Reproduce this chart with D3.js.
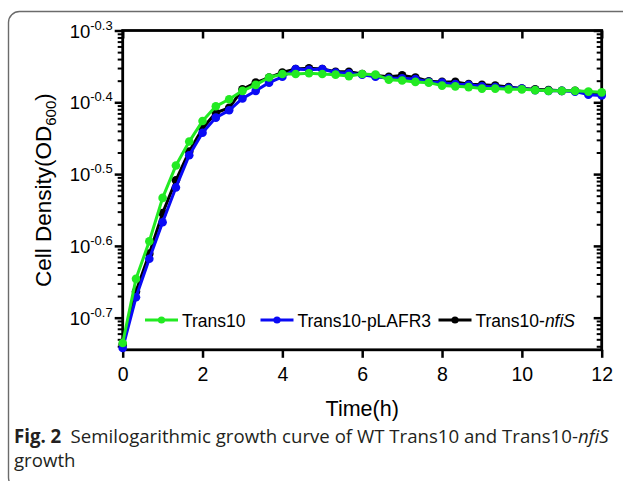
<!DOCTYPE html>
<html>
<head>
<meta charset="utf-8">
<script src="https://cdn.jsdelivr.net/npm/d3@7"></script>
<style>
body { margin: 0; background: #fff; }
svg { display: block; }
</style>
</head>
<body>
<script>
// time points (h), sampled every 20 min
var hours = [0, 0.333, 0.667, 1, 1.333, 1.667, 2, 2.333, 2.667, 3, 3.333, 3.667, 4, 4.333, 4.667, 5, 5.333, 5.667,
	6, 6.333, 6.667, 7, 7.333, 7.667, 8, 8.333, 8.667, 9, 9.333, 9.667, 10, 10.333, 10.667, 11, 11.333, 11.667, 12];

// OD600 readings
var trans10 = [0.184, 0.226, 0.255, 0.293, 0.325, 0.351, 0.375, 0.393, 0.402, 0.413, 0.421, 0.431, 0.436, 0.436, 0.437, 0.436, 0.435, 0.433,
	0.436, 0.435, 0.428, 0.427, 0.425, 0.424, 0.420, 0.419, 0.418, 0.416, 0.416, 0.415, 0.415, 0.414, 0.413, 0.413, 0.413, 0.412, 0.411];
var pLAFR3 = [0.181, 0.213, 0.241, 0.271, 0.303, 0.336, 0.361, 0.379, 0.388, 0.403, 0.413, 0.424, 0.432, 0.443, 0.442, 0.443, 0.438, 0.437,
	0.435, 0.432, 0.430, 0.430, 0.429, 0.425, 0.424, 0.422, 0.421, 0.419, 0.418, 0.417, 0.416, 0.414, 0.413, 0.413, 0.412, 0.408, 0.407];
var nfiS = [0.183, 0.217, 0.245, 0.279, 0.310, 0.340, 0.366, 0.385, 0.391, 0.415, 0.424, 0.431, 0.438, 0.443, 0.444, 0.443, 0.439, 0.439,
	0.436, 0.434, 0.432, 0.434, 0.431, 0.426, 0.425, 0.425, 0.422, 0.421, 0.420, 0.418, 0.416, 0.415, 0.414, 0.413, 0.413, 0.411, 0.410];

var xTicks = [0, 2, 4, 6, 8, 10, 12];
var yExponents = [-0.7, -0.6, -0.5, -0.4, -0.3];

var series = [
	{ name: "Trans10-nfiS", values: nfiS, color: "#000000" },
	{ name: "Trans10-pLAFR3", values: pLAFR3, color: "#0a0af5" },
	{ name: "Trans10", values: trans10, color: "#22ea22" }
];

var width = 623, height = 481;
var font = "'Liberation Sans', Arial, sans-serif";

var svg = d3.select("body").append("svg")
	.attr("width", width)
	.attr("height", height);

// figure frame (journal box)
svg.append("rect")
	.attr("x", 8.5).attr("y", 11.5)
	.attr("width", 660).attr("height", 477)
	.attr("rx", 11)
	.attr("fill", "none")
	.attr("stroke", "#6b6b6b")
	.attr("stroke-width", 1.4);

var x = d3.scaleLinear().domain([0, 12]).range([122.7, 601.7]);
var y = d3.scaleLog().domain([0.18, Math.pow(10, -0.3)]).range([349.8, 30.5]);

var majors = yExponents.map(function (e) { return Math.pow(10, e); });
var minors = [];
[-0.8, -0.7, -0.6, -0.5, -0.4].forEach(function (b) {
	for (var k = 2; k <= 9; k++) {
		var v = Math.pow(10, b + 0.1 * Math.log10(k));
		if (v >= y.domain()[0] && v <= y.domain()[1]) minors.push(v);
	}
});

var x0 = x.range()[0], x1 = x.range()[1], y0 = y.range()[0], y1 = y.range()[1];

function styleAxis(g, sw) {
	g.selectAll("line").attr("stroke", "#000").attr("stroke-width", sw);
	g.selectAll(".domain").remove();
}

// left axis
var gl = svg.append("g").attr("transform", "translate(" + x0 + ",0)");
gl.call(d3.axisLeft(y).tickValues(minors).tickSize(5).tickFormat(""));
styleAxis(gl, 2);
var glm = svg.append("g").attr("transform", "translate(" + x0 + ",0)");
glm.call(d3.axisLeft(y).tickValues(majors).tickSize(8).tickFormat(""));
styleAxis(glm, 2.5);

// right axis (ticks inward)
var gr = svg.append("g").attr("transform", "translate(" + x1 + ",0)");
gr.call(d3.axisRight(y).tickValues(minors).tickSize(-5).tickFormat(""));
styleAxis(gr, 2);
var grm = svg.append("g").attr("transform", "translate(" + x1 + ",0)");
grm.call(d3.axisRight(y).tickValues(majors).tickSize(-8).tickFormat(""));
styleAxis(grm, 2.5);

// bottom axis
var gb = svg.append("g").attr("transform", "translate(0," + y0 + ")");
gb.call(d3.axisBottom(x).tickValues(xTicks).tickSize(8).tickFormat(d3.format("d")));
styleAxis(gb, 2.5);
gb.selectAll("text")
	.attr("font-family", font)
	.attr("font-size", 19.5)
	.attr("fill", "#000")
	.attr("dy", "1.05em");

// top axis (ticks inward)
var gt = svg.append("g").attr("transform", "translate(0," + y1 + ")");
gt.call(d3.axisTop(x).tickValues(xTicks).tickSize(-8).tickFormat(""));
styleAxis(gt, 2.5);

// plot frame
svg.append("rect")
	.attr("x", x0).attr("y", y1)
	.attr("width", x1 - x0).attr("height", y0 - y1)
	.attr("fill", "none")
	.attr("stroke", "#000")
	.attr("stroke-width", 2.8);

// y tick labels 10^e
var yl = svg.append("g").selectAll("text")
	.data(yExponents)
	.enter().append("text")
	.attr("x", x0 - 10)
	.attr("y", function (d) { return y(Math.pow(10, d)) + 7; })
	.attr("text-anchor", "end")
	.attr("font-family", font)
	.attr("fill", "#000");
yl.append("tspan").attr("font-size", 18.5).text("10");
yl.append("tspan").attr("font-size", 13).attr("dy", -8).text(function (d) { return d.toFixed(1); });

// axis titles
var yt = svg.append("text")
	.attr("transform", "translate(51," + ((y0 + y1) / 2) + ") rotate(-90)")
	.attr("text-anchor", "middle")
	.attr("font-family", font)
	.attr("font-size", 22.5)
	.attr("fill", "#000");
yt.append("tspan").text("Cell Density(OD");
yt.append("tspan").attr("font-size", 15).attr("dy", 5).text("600");
yt.append("tspan").attr("dy", -5).text(")");

svg.append("text")
	.attr("x", (x0 + x1) / 2)
	.attr("y", 416)
	.attr("text-anchor", "middle")
	.attr("font-family", font)
	.attr("font-size", 21.5)
	.attr("fill", "#000")
	.text("Time(h)");

// series
var line = d3.line()
	.x(function (d, i) { return x(hours[i]); })
	.y(function (d) { return y(d); });

series.forEach(function (s) {
	var g = svg.append("g");
	g.append("path")
		.attr("d", line(s.values))
		.attr("fill", "none")
		.attr("stroke", s.color)
		.attr("stroke-width", 3)
		.attr("stroke-linejoin", "round");
	g.selectAll("circle")
		.data(s.values)
		.enter().append("circle")
		.attr("cx", function (d, i) { return x(hours[i]); })
		.attr("cy", function (d) { return y(d); })
		.attr("r", 4.3)
		.attr("fill", s.color);
});

// legend
var legendItems = [series[2], series[1], series[0]];
var legendX = [145, 260.5, 438.5];
var lg = svg.append("g").attr("transform", "translate(0,320)");
legendItems.forEach(function (s, i) {
	var g = lg.append("g").attr("transform", "translate(" + legendX[i] + ",0)");
	g.append("line").attr("x1", 0).attr("x2", 33).attr("stroke", s.color).attr("stroke-width", 3);
	g.append("circle").attr("cx", 16.5).attr("r", 3.6).attr("fill", s.color);
	var t = g.append("text")
		.attr("x", 37)
		.attr("y", 6.5)
		.attr("font-family", font)
		.attr("font-size", 17.5)
		.attr("fill", "#000");
	if (s.name === "Trans10-nfiS") {
		t.append("tspan").text("Trans10-");
		t.append("tspan").attr("font-style", "italic").text("nfiS");
	} else {
		t.text(s.name);
	}
});

// caption
var capFont = "'Open Sans', 'Noto Sans', sans-serif";
var cap1 = svg.append("text")
	.attr("x", 0).attr("y", 0)
	.attr("font-family", capFont)
	.attr("font-size", 19)
	.attr("fill", "#231f20");
cap1.append("tspan").attr("font-weight", "bold").text("Fig. 2");
cap1.append("tspan").text("\u2002Semilogarithmic growth curve of WT Trans10 and Trans10-");
cap1.append("tspan").attr("font-style", "italic").text("nfiS");
var w1 = cap1.node().getComputedTextLength();
cap1.attr("transform", "translate(14,443) scale(" + (595 / w1) + ",1)");

var cap2 = svg.append("text")
	.attr("font-family", capFont)
	.attr("font-size", 19)
	.attr("fill", "#231f20")
	.text("growth");
cap2.attr("transform", "translate(14,467) scale(" + (595 / w1) + ",1)");
</script>
</body>
</html>
